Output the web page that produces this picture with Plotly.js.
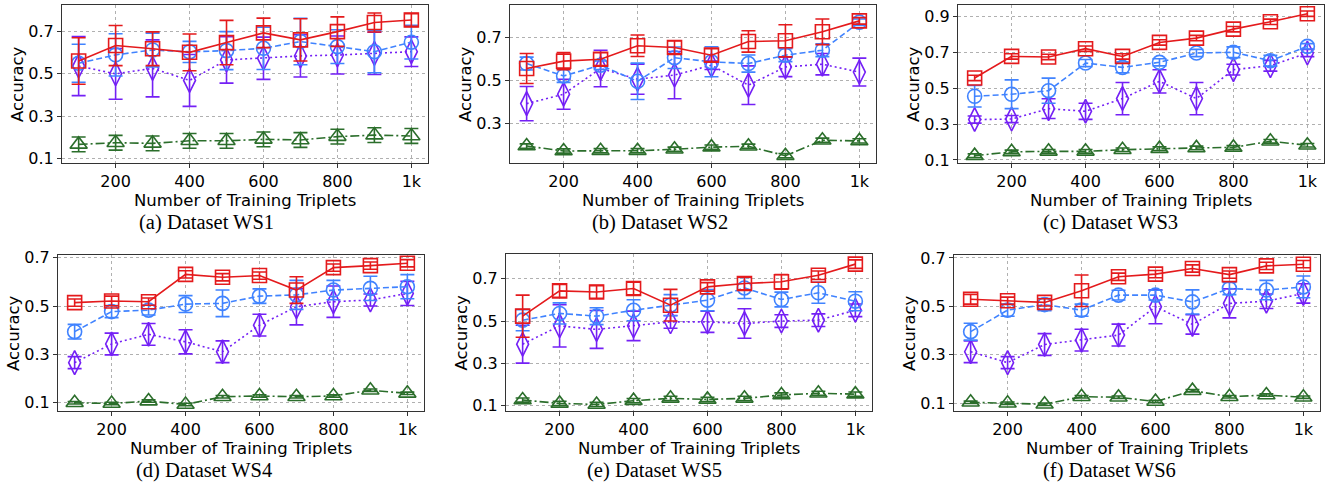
<!DOCTYPE html>
<html>
<head>
<meta charset="utf-8">
<script src="https://cdn.plot.ly/plotly-3.0.1.min.js"></script>
<style>html,body{margin:0;padding:0;background:#fff;}#chart{width:1335px;height:493px;}</style>
</head>
<body>
<div id="chart"></div>
<script>
// ---------- data ----------
const triplets = [100, 200, 300, 400, 500, 600, 700, 800, 900, 1000];
const xTickVals = [200, 400, 600, 800, 1000];
const xTickText = ["200", "400", "600", "800", "1k"];
const xTitle = "Number of Training Triplets";
const yTitle = "Accuracy";
const captions = ["(a) Dataset WS1", "(b) Dataset WS2", "(c) Dataset WS3", "(d) Dataset WS4", "(e) Dataset WS5", "(f) Dataset WS6"];

// WS1
const ws1Square = [0.561, 0.634, 0.619, 0.602, 0.648, 0.694, 0.661, 0.700, 0.743, 0.755];
const ws1SquareErr = [0.11, 0.095, 0.08, 0.087, 0.105, 0.07, 0.10, 0.07, 0.045, 0.03];
const ws1Circle = [0.550, 0.590, 0.613, 0.604, 0.610, 0.621, 0.653, 0.629, 0.605, 0.650];
const ws1CircleErr = [0.09, 0.10, 0.08, 0.05, 0.09, 0.10, 0.11, 0.08, 0.10, 0.08];
const ws1Diamond = [0.537, 0.500, 0.526, 0.469, 0.566, 0.574, 0.585, 0.589, 0.597, 0.605];
const ws1DiamondErr = [0.14, 0.12, 0.135, 0.123, 0.11, 0.10, 0.10, 0.09, 0.10, 0.07];
const ws1Triangle = [0.166, 0.174, 0.171, 0.183, 0.183, 0.190, 0.187, 0.203, 0.210, 0.206];
const ws1TriangleErr = [0.035, 0.035, 0.035, 0.035, 0.035, 0.035, 0.035, 0.035, 0.035, 0.035];

// WS2
const ws2Square = [0.557, 0.591, 0.600, 0.663, 0.655, 0.619, 0.683, 0.686, 0.728, 0.779];
const ws2SquareErr = [0.07, 0.04, 0.03, 0.05, 0.03, 0.03, 0.05, 0.075, 0.06, 0.015];
const ws2Circle = [0.580, 0.522, 0.572, 0.497, 0.607, 0.588, 0.580, 0.619, 0.642, 0.773];
const ws2CircleErr = [0.03, 0.03, 0.02, 0.085, 0.05, 0.07, 0.04, 0.03, 0.03, 0.015];
const ws2Diamond = [0.393, 0.437, 0.557, 0.507, 0.526, 0.572, 0.479, 0.564, 0.577, 0.540];
const ws2DiamondErr = [0.08, 0.07, 0.085, 0.07, 0.11, 0.02, 0.09, 0.045, 0.05, 0.065];
const ws2Triangle = [0.195, 0.172, 0.173, 0.173, 0.180, 0.190, 0.194, 0.150, 0.222, 0.219];
const ws2TriangleErr = [0.01, 0.01, 0.01, 0.01, 0.01, 0.01, 0.01, 0.01, 0.01, 0.01];

// WS3
const ws3Square = [0.557, 0.677, 0.674, 0.720, 0.677, 0.755, 0.779, 0.829, 0.870, 0.915];
const ws3SquareErr = [0.015, 0.015, 0.015, 0.015, 0.015, 0.015, 0.015, 0.015, 0.015, 0.015];
const ws3Circle = [0.455, 0.466, 0.486, 0.640, 0.616, 0.644, 0.696, 0.700, 0.653, 0.733];
const ws3CircleErr = [0.06, 0.08, 0.07, 0.02, 0.03, 0.02, 0.02, 0.03, 0.03, 0.015];
const ws3Diamond = [0.325, 0.328, 0.386, 0.371, 0.442, 0.538, 0.442, 0.603, 0.625, 0.696];
const ws3DiamondErr = [0.02, 0.02, 0.055, 0.045, 0.09, 0.065, 0.09, 0.03, 0.03, 0.02];
const ws3Triangle = [0.124, 0.145, 0.148, 0.148, 0.157, 0.163, 0.167, 0.170, 0.204, 0.182];
const ws3TriangleErr = [0.01, 0.01, 0.01, 0.01, 0.01, 0.01, 0.01, 0.01, 0.01, 0.01];

// WS4
const ws4Square = [0.514, 0.521, 0.518, 0.631, 0.619, 0.626, 0.566, 0.659, 0.667, 0.677];
const ws4SquareErr = [0.015, 0.02, 0.015, 0.015, 0.015, 0.015, 0.055, 0.015, 0.015, 0.015];
const ws4Circle = [0.394, 0.477, 0.483, 0.508, 0.511, 0.541, 0.546, 0.566, 0.573, 0.580];
const ws4CircleErr = [0.03, 0.025, 0.02, 0.035, 0.055, 0.03, 0.06, 0.04, 0.05, 0.05];
const ws4Diamond = [0.266, 0.343, 0.383, 0.352, 0.311, 0.421, 0.497, 0.518, 0.525, 0.552];
const ws4DiamondErr = [0.025, 0.045, 0.045, 0.05, 0.045, 0.045, 0.075, 0.065, 0.025, 0.05];
const ws4Triangle = [0.100, 0.097, 0.107, 0.093, 0.125, 0.128, 0.125, 0.128, 0.152, 0.139];
const ws4TriangleErr = [0.005, 0.005, 0.005, 0.005, 0.005, 0.005, 0.005, 0.005, 0.005, 0.005];

// WS5
const ws5Square = [0.523, 0.643, 0.638, 0.654, 0.575, 0.662, 0.678, 0.686, 0.717, 0.770];
const ws5SquareErr = [0.10, 0.03, 0.03, 0.03, 0.075, 0.02, 0.03, 0.035, 0.02, 0.02];
const ws5Circle = [0.504, 0.536, 0.523, 0.551, 0.575, 0.599, 0.657, 0.602, 0.634, 0.594];
const ws5CircleErr = [0.05, 0.05, 0.04, 0.05, 0.05, 0.05, 0.05, 0.035, 0.05, 0.045];
const ws5Diamond = [0.390, 0.477, 0.460, 0.477, 0.496, 0.496, 0.488, 0.500, 0.504, 0.551];
const ws5DiamondErr = [0.09, 0.10, 0.09, 0.07, 0.03, 0.05, 0.07, 0.03, 0.03, 0.03];
const ws5Triangle = [0.125, 0.109, 0.104, 0.122, 0.133, 0.128, 0.133, 0.149, 0.157, 0.153];
const ws5TriangleErr = [0.01, 0.01, 0.01, 0.01, 0.01, 0.01, 0.01, 0.01, 0.01, 0.01];

// WS6
const ws6Square = [0.529, 0.523, 0.516, 0.564, 0.622, 0.633, 0.656, 0.631, 0.667, 0.674];
const ws6SquareErr = [0.02, 0.015, 0.015, 0.065, 0.015, 0.015, 0.015, 0.015, 0.015, 0.015];
const ws6Circle = [0.395, 0.484, 0.507, 0.484, 0.546, 0.546, 0.518, 0.573, 0.567, 0.580];
const ws6CircleErr = [0.035, 0.025, 0.025, 0.025, 0.02, 0.02, 0.05, 0.025, 0.04, 0.045];
const ws6Diamond = [0.312, 0.267, 0.342, 0.360, 0.381, 0.498, 0.425, 0.512, 0.521, 0.553];
const ws6DiamondErr = [0.045, 0.025, 0.045, 0.045, 0.045, 0.07, 0.04, 0.06, 0.03, 0.04];
const ws6Triangle = [0.103, 0.099, 0.095, 0.126, 0.124, 0.106, 0.151, 0.126, 0.133, 0.124];
const ws6TriangleErr = [0.005, 0.005, 0.005, 0.005, 0.005, 0.005, 0.005, 0.005, 0.005, 0.005];

const datasets = [
  {sq: ws1Square, sqE: ws1SquareErr, ci: ws1Circle, ciE: ws1CircleErr, di: ws1Diamond, diE: ws1DiamondErr, tr: ws1Triangle, trE: ws1TriangleErr},
  {sq: ws2Square, sqE: ws2SquareErr, ci: ws2Circle, ciE: ws2CircleErr, di: ws2Diamond, diE: ws2DiamondErr, tr: ws2Triangle, trE: ws2TriangleErr},
  {sq: ws3Square, sqE: ws3SquareErr, ci: ws3Circle, ciE: ws3CircleErr, di: ws3Diamond, diE: ws3DiamondErr, tr: ws3Triangle, trE: ws3TriangleErr},
  {sq: ws4Square, sqE: ws4SquareErr, ci: ws4Circle, ciE: ws4CircleErr, di: ws4Diamond, diE: ws4DiamondErr, tr: ws4Triangle, trE: ws4TriangleErr},
  {sq: ws5Square, sqE: ws5SquareErr, ci: ws5Circle, ciE: ws5CircleErr, di: ws5Diamond, diE: ws5DiamondErr, tr: ws5Triangle, trE: ws5TriangleErr},
  {sq: ws6Square, sqE: ws6SquareErr, ci: ws6Circle, ciE: ws6CircleErr, di: ws6Diamond, diE: ws6DiamondErr, tr: ws6Triangle, trE: ws6TriangleErr}
];
const yTickSets = [[0.1,0.3,0.5,0.7],[0.3,0.5,0.7],[0.1,0.3,0.5,0.7,0.9],[0.1,0.3,0.5,0.7],[0.1,0.3,0.5,0.7],[0.1,0.3,0.5,0.7]];

// ---------- layout ----------
const W = 1335, H = 493;
// plot boxes in pixels [left, top, right, bottom]
const boxes = [
  [62, 5, 428, 163], [510, 5, 876, 163], [958, 5, 1324, 163],
  [58, 255, 424, 411], [506, 254, 872, 411], [954, 255, 1320, 411]
];
const yRanges = [[0.078,0.826],[0.116,0.853],[0.083,0.9635],[0.066,0.711],[0.073,0.818],[0.067,0.712]];
const captionCenters = [[206,222],[660,222],[1110,222],[204,470],[654,470],[1109,470]];

const cRed = '#e41a1c', cBlue = '#4083ff', cPurple = '#7420f5', cGreen = '#2b6e2b';
const tickFont = {family: 'DejaVu Sans', size: 16, color: '#000'};
const titleFont = {family: 'DejaVu Sans', size: 16.5, color: '#000'};

const traces = [];
const layout = {
  width: W, height: H, margin: {l:0, r:0, t:0, b:0},
  paper_bgcolor: '#fff', plot_bgcolor: '#fff', showlegend: false,
  annotations: []
};

function series(i, y, e, color, symbol, size, dash, name) {
  const s = i === 0 ? '' : String(i + 1);
  return {
    type: 'scatter', mode: 'lines+markers', name: name,
    x: triplets, y: y, xaxis: 'x' + s, yaxis: 'y' + s,
    line: {color: color, width: 1.6, dash: dash},
    marker: {symbol: symbol, size: size, color: color, line: {color: color, width: 1.6}},
    error_y: {type: 'data', array: e, visible: true, color: color, thickness: 1.6, width: 7},
    cliponaxis: true
  };
}

for (let i = 0; i < 6; i++) {
  const d = datasets[i];
  traces.push(series(i, d.tr, d.trE, cGreen, 'triangle-up-open', 15, '9px,3px,2px,3px', 'triangle'));
  traces.push(series(i, d.di, d.diE, cPurple, 'diamond-tall-open', 17, '2px,3px', 'diamond'));
  traces.push(series(i, d.ci, d.ciE, cBlue, 'circle-open', 14, '6px,3px', 'circle'));
  traces.push(series(i, d.sq, d.sqE, cRed, 'square-open', 14, 'solid', 'square'));

  const b = boxes[i];
  const s = i === 0 ? '' : String(i + 1);
  layout['xaxis' + s] = {
    domain: [b[0] / W, b[2] / W], anchor: 'y' + s,
    range: [55, 1045], tickvals: xTickVals, ticktext: xTickText,
    showgrid: true, gridcolor: '#b0b0b0', griddash: 'dot', gridwidth: 1,
    zeroline: false, showline: true, mirror: true, linecolor: '#333', linewidth: 1,
    ticks: 'outside', ticklen: 4, tickcolor: '#333', tickfont: tickFont
  };
  layout['yaxis' + s] = {
    domain: [1 - b[3] / H, 1 - b[1] / H], anchor: 'x' + s,
    range: yRanges[i], tickvals: yTickSets[i], ticktext: yTickSets[i].map(v => v.toFixed(1)),
    showgrid: true, gridcolor: '#b0b0b0', griddash: 'dot', gridwidth: 1,
    zeroline: false, showline: true, mirror: true, linecolor: '#333', linewidth: 1,
    ticks: 'outside', ticklen: 4, tickcolor: '#333', tickfont: tickFont
  };
  // axis titles
  layout.annotations.push({
    xref: 'paper', yref: 'paper', x: (b[0] + b[2]) / 2 / W, y: 1 - (b[3] + 37) / H,
    xanchor: 'center', yanchor: 'middle', showarrow: false, borderpad: 0, text: xTitle, font: titleFont
  });
  layout.annotations.push({
    xref: 'paper', yref: 'paper', x: (b[0] - 45) / W, y: 1 - (b[1] + b[3]) / 2 / H,
    xanchor: 'center', yanchor: 'middle', showarrow: false, borderpad: 0, text: yTitle, textangle: -90, font: titleFont
  });
  layout.annotations.push({
    xref: 'paper', yref: 'paper', x: captionCenters[i][0] / W, y: 1 - captionCenters[i][1] / H,
    xanchor: 'center', yanchor: 'middle', showarrow: false, borderpad: 0, text: captions[i],
    font: {family: 'Liberation Serif', size: 20.5, color: '#000'}
  });
}

Plotly.newPlot('chart', traces, layout, {displayModeBar: false, staticPlot: true});
</script>
</body>
</html>
